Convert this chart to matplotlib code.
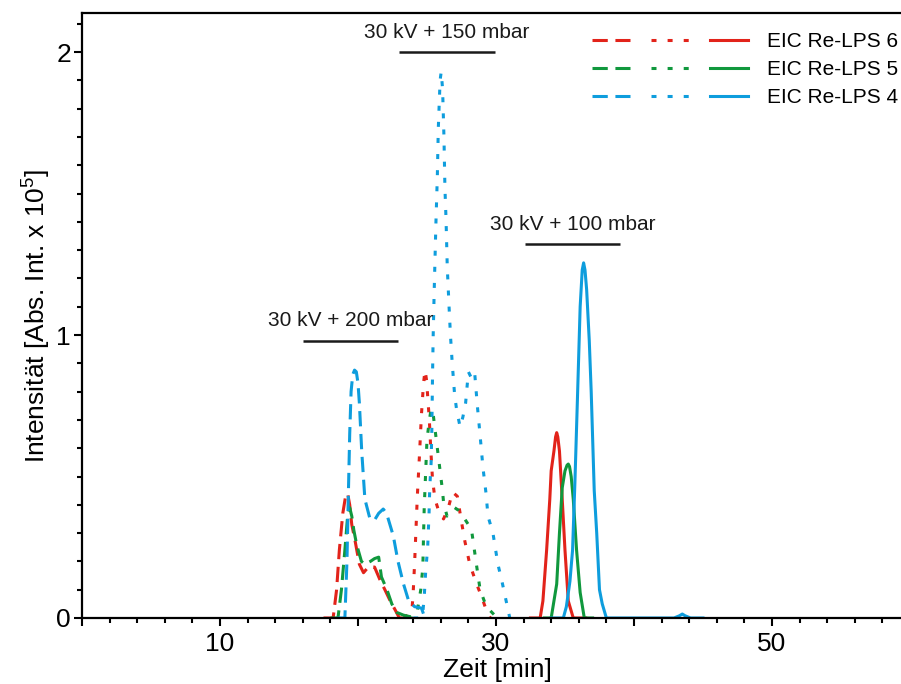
import numpy as np
import matplotlib
matplotlib.use("Agg")
import matplotlib.pyplot as plt
from matplotlib.lines import Line2D
from matplotlib.legend_handler import HandlerTuple
from matplotlib.ticker import MultipleLocator, FuncFormatter

plt.rcParams["font.family"] = ["Liberation Sans", "DejaVu Sans"]
plt.rcParams["mathtext.fontset"] = "custom"
plt.rcParams["mathtext.rm"] = "Liberation Sans"
plt.rcParams["lines.scale_dashes"] = False

# --- data (time in min, intensity in 1e5) ---
# 30 kV + 200 mbar (dashed)
red_dash_x = [17.5, 18.2, 18.45, 18.65, 18.9, 19.1, 19.25, 19.4, 19.55, 19.8, 20.1, 20.4,
              20.75, 21.2, 21.6, 21.95, 22.3, 22.7, 23.0, 23.5]
red_dash_y = [0, 0, 0.1, 0.24, 0.37, 0.43, 0.44, 0.4, 0.33, 0.27, 0.19, 0.16,
              0.18, 0.18, 0.134, 0.1, 0.064, 0.028, 0, 0]
green_dash_x = [18.0, 18.55, 18.8, 19.05, 19.25, 19.4, 19.55, 19.7, 19.9, 20.25, 20.5,
                20.9, 21.2, 21.5, 21.7, 22.1, 22.45, 22.8, 23.3, 24.2]
green_dash_y = [0, 0, 0.1, 0.24, 0.36, 0.39, 0.36, 0.31, 0.26, 0.2, 0.19,
                0.2, 0.21, 0.215, 0.145, 0.1, 0.05, 0.02, 0.01, 0]
blue_dash_x = [18.5, 19.05, 19.2, 19.3, 19.4, 19.5, 19.62, 19.75, 19.88, 20.0, 20.1, 20.27,
               20.5, 20.87, 21.2, 21.5, 21.83, 22.07, 22.56, 22.9, 23.3, 23.65, 24.1, 24.6, 24.85]
blue_dash_y = [0, 0, 0.2, 0.43, 0.65, 0.8, 0.86, 0.876, 0.87, 0.83, 0.76, 0.59,
               0.42, 0.35, 0.346, 0.37, 0.385, 0.37, 0.29, 0.2, 0.12, 0.064, 0.04, 0.035, 0]

# 30 kV + 150 mbar (dotted)
red_dot_x = [23.3, 23.9, 24.0, 24.1, 24.2, 24.3, 24.45, 24.6, 24.75, 24.86, 24.97, 25.17,
             25.27, 25.4, 25.58, 25.9, 26.2, 26.55, 26.85, 27.2, 27.5, 27.75, 28.1, 28.6,
             29.0, 29.35, 29.6]
red_dot_y = [0, 0.02, 0.09, 0.19, 0.31, 0.43, 0.57, 0.72, 0.83, 0.876, 0.84, 0.70,
             0.6, 0.49, 0.42, 0.37, 0.35, 0.39, 0.445, 0.43, 0.34, 0.27, 0.19, 0.12,
             0.07, 0.02, 0]
green_dot_x = [23.6, 24.1, 24.25, 24.55, 24.7, 24.75, 24.8, 24.9, 25.0, 25.15, 25.3, 25.45,
               25.6, 25.75, 25.9, 26.1, 26.2, 26.45, 26.7, 27.0, 27.3, 27.6, 28.0, 28.2,
               28.35, 28.55, 28.85, 29.3, 29.7, 30.1]
green_dot_y = [0, 0, 0.01, 0.1, 0.18, 0.29, 0.39, 0.51, 0.63, 0.69, 0.74, 0.72,
               0.66, 0.6, 0.54, 0.46, 0.41, 0.36, 0.37, 0.39, 0.38, 0.36, 0.33, 0.32,
               0.27, 0.2, 0.1, 0.04, 0.02, 0]
blue_dot_x = [24.0, 24.55, 24.7, 24.8, 24.9, 25.05, 25.15, 25.2, 25.3, 25.35, 25.4, 25.45,
              25.53, 25.65, 25.75, 25.82, 25.95, 26.03, 26.13, 26.23, 26.3, 26.38, 26.47,
              26.6, 26.7, 26.83, 27.0, 27.15, 27.4, 27.6, 27.8, 28.0, 28.2, 28.45, 28.65,
              28.84, 29.06, 29.28, 29.42, 29.78, 30.14, 30.43, 30.87, 31.0]
blue_dot_y = [0, 0, 0.02, 0.075, 0.16, 0.25, 0.37, 0.46, 0.55, 0.66, 0.85, 1.0,
              1.17, 1.4, 1.56, 1.73, 1.9, 1.93, 1.87, 1.70, 1.52, 1.41, 1.24,
              1.1, 1.0, 0.9, 0.79, 0.735, 0.675, 0.71, 0.76, 0.87, 0.85, 0.87, 0.75,
              0.65, 0.53, 0.44, 0.36, 0.30, 0.19, 0.13, 0.03, 0]

# 30 kV + 100 mbar (solid)
red_sol_x = [32.5, 33.2, 33.4, 33.67, 33.9, 34.0, 34.2, 34.32, 34.4, 34.48, 34.6, 34.8, 35.0,
             35.24, 35.6, 36.5]
red_sol_y = [0, 0, 0.06, 0.24, 0.42, 0.52, 0.59, 0.64, 0.655, 0.64, 0.59, 0.42, 0.24,
             0.06, 0, 0]
green_sol_x = [33.5, 34.0, 34.4, 34.6, 34.8, 35.0, 35.15, 35.24, 35.33, 35.45, 35.6, 35.84,
               36.1, 36.4, 37.0]
green_sol_y = [0, 0, 0.12, 0.3, 0.46, 0.52, 0.54, 0.544, 0.535, 0.5, 0.42, 0.24,
               0.09, 0, 0]
blue_sol_x = [34.0, 34.88, 35.1, 35.36, 35.55, 35.72, 35.9, 36.1, 36.25, 36.35, 36.45, 36.57,
              36.76, 36.9, 37.12, 37.3, 37.5, 37.7, 38.0, 42.9, 43.3, 43.5, 43.7, 44.1, 45.0]
blue_sol_y = [0, 0, 0.04, 0.13, 0.24, 0.48, 0.77, 1.1, 1.23, 1.255, 1.23, 1.16,
              0.98, 0.8, 0.45, 0.3, 0.1, 0.05, 0, 0, 0.008, 0.014, 0.008, 0, 0]

labels = ["EIC Re-LPS 6", "EIC Re-LPS 5", "EIC Re-LPS 4"]
colors = ["#e2231a", "#10983d", "#0e9ddd"]

# annotation bars: (text, x-start, x-end, bar height)
annots = [("30 kV + 200 mbar", 16.0, 22.9, 0.98),
          ("30 kV + 150 mbar", 23.0, 29.9, 2.0),
          ("30 kV + 100 mbar", 32.1, 39.0, 1.32)]

DASH = (0, (11, 5.5))
DOT = (0, (3.6, 8))
LW = 2.2

fig = plt.figure(figsize=(9.01, 6.84), dpi=100)
ax = fig.add_axes([0.091, 0.0965, 0.909, 0.8845])

series = [
    (red_dash_x, red_dash_y, red_dot_x, red_dot_y, red_sol_x, red_sol_y),
    (green_dash_x, green_dash_y, green_dot_x, green_dot_y, green_sol_x, green_sol_y),
    (blue_dash_x, blue_dash_y, blue_dot_x, blue_dot_y, blue_sol_x, blue_sol_y),
]
handles = []
for (dx, dy, ox, oy, sx, sy), c in zip(series, colors):
    l1, = ax.plot(dx, dy, color=c, lw=LW, linestyle=DASH)
    l2, = ax.plot(ox, oy, color=c, lw=LW, linestyle=DOT)
    l3, = ax.plot(sx, sy, color=c, lw=LW, linestyle="-")
    handles.append((l1, l2, l3))

for txt, x0, x1, yb in annots:
    ax.plot([x0, x1], [yb, yb], color="#1a1a1a", lw=1.8, solid_capstyle="butt")
    ax.text((x0 + x1) / 2, yb + 0.07, txt, ha="center", va="center", fontsize=15,
            color="#1a1a1a")

ax.set_xlim(0, 59.35)
ax.set_ylim(0, 2.138)

ax.xaxis.set_major_locator(MultipleLocator(10))
ax.xaxis.set_minor_locator(MultipleLocator(2))
ax.xaxis.set_major_formatter(FuncFormatter(lambda v, p: f"{v:.0f}" if round(v) in (10, 30, 50) else ""))
ax.yaxis.set_major_locator(MultipleLocator(1))
ax.yaxis.set_minor_locator(MultipleLocator(0.1))
ax.yaxis.set_major_formatter(FuncFormatter(lambda v, p: f"{v:.0f}"))

ax.tick_params(which="major", direction="out", length=6, width=1.5, labelsize=19, pad=4)
ax.tick_params(which="minor", direction="out", length=3.5, width=1.5)
ax.tick_params(axis="y", which="major", pad=2)

for s in ["left", "bottom", "top"]:
    ax.spines[s].set_linewidth(1.6)
ax.spines["right"].set_visible(False)

ax.set_xlabel("Zeit [min]", fontsize=19)
ax.xaxis.set_label_coords((497 - 82) / 819, -0.066)
ax.set_ylabel("Intensität [Abs. Int. x 10$^5$]", fontsize=19)
ax.yaxis.set_label_coords(-0.037, 0.5)

leg = fig.legend(handles, labels, handler_map={tuple: HandlerTuple(ndivide=None, pad=1.0)},
                 loc="upper right", bbox_to_anchor=(898 / 901, 1 - 32 / 684),
                 frameon=False, fontsize=15, handlelength=7.5, handletextpad=0.9,
                 labelspacing=0.44, borderpad=0, borderaxespad=0)

fig.savefig("out.png", dpi=100)
